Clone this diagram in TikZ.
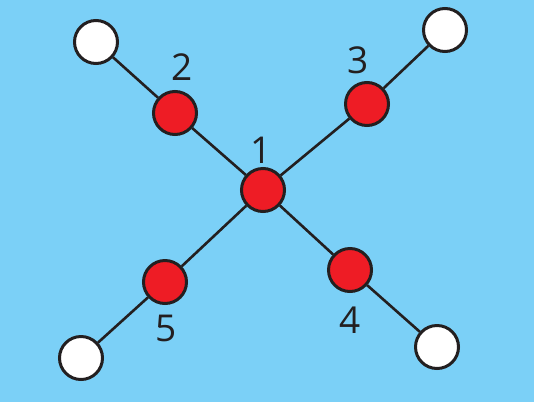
\documentclass[tikz,border=0pt]{standalone}
\usepackage{fontspec}
\setmainfont{Open Sans}
\usetikzlibrary{positioning}
\definecolor{skyback}{HTML}{7BD0F7}
\definecolor{redhub}{HTML}{EE1C25}
\definecolor{inkline}{HTML}{231F20}

\begin{document}
\begin{tikzpicture}[x=1pt, y=-1pt,
      hub/.style={circle, draw=inkline, line width=3pt, fill=redhub, minimum size=43pt, inner sep=0pt},
      leaf/.style={circle, draw=inkline, line width=3pt, fill=white, minimum size=43pt, inner sep=0pt},
      edge/.style={draw=inkline, line width=2.6pt},
      num/.style={text=inkline, font=\fontsize{37}{40}\selectfont, inner sep=0pt}
    ]
    \fill[skyback] (0,0) rectangle (534,402);
    \useasboundingbox (0,0) rectangle (534,402);
    % red nodes
    \node[hub] (c1) at (263,190) {};
    \node[hub] (c2) at (175,113) {};
    \node[hub] (c3) at (367,104) {};
    \node[hub] (c4) at (350,270) {};
    \node[hub] (c5) at (165,282) {};
    % white ends
    \node[leaf] (w2) at (96,42) {};
    \node[leaf] (w3) at (445,30) {};
    \node[leaf] (w4) at (437,347) {};
    \node[leaf] (w5) at (81,358) {};
    % links
    \draw[edge] (c1) -- (c2);
    \draw[edge] (c1) -- (c3);
    \draw[edge] (c1) -- (c4);
    \draw[edge] (c1) -- (c5);
    \draw[edge] (c2) -- (w2);
    \draw[edge] (c3) -- (w3);
    \draw[edge] (c4) -- (w4);
    \draw[edge] (c5) -- (w5);
    % labels
    \node[num] (n1) at (261,150) {1};
    \node[num] (n2) at (182,67) {2};
    \node[num] (n3) at (358,60) {3};
    \node[num] (n4) at (350,320) {4};
    \node[num] (n5) at (166,328) {5};
\end{tikzpicture}
\end{document}
